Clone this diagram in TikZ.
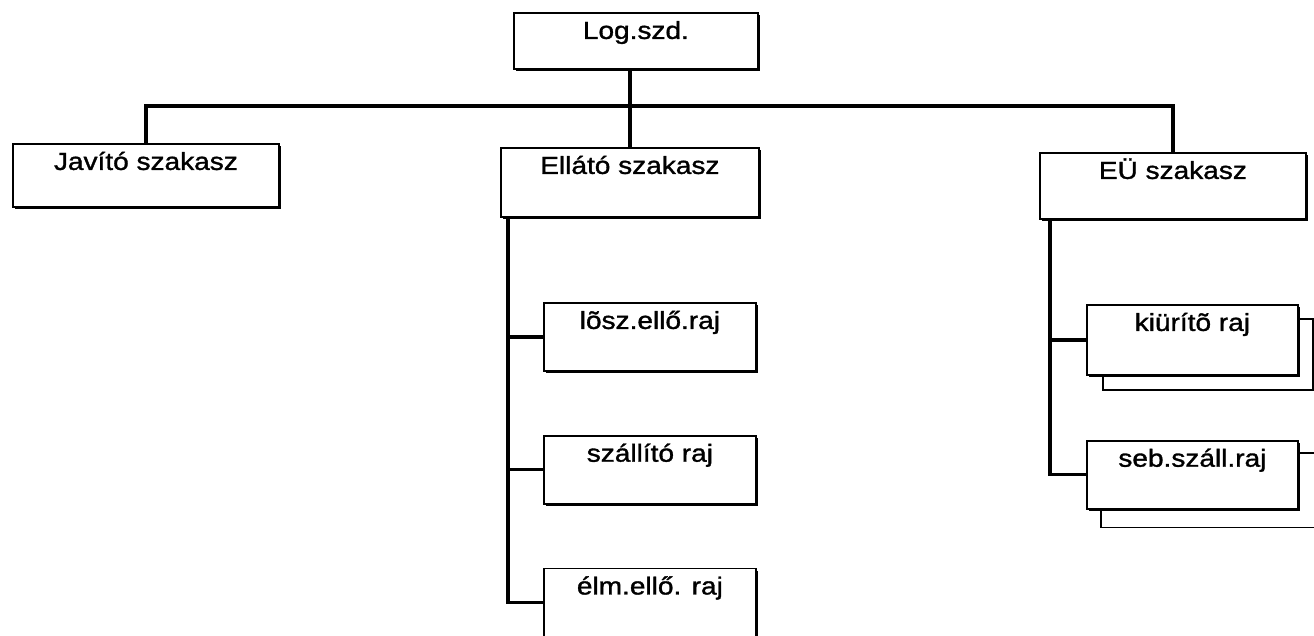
\documentclass[tikz,border=0pt]{standalone}
\usepackage{fontspec}
\setmainfont{Liberation Sans}[FakeStretch=1.14,FakeBold=1.3]
\usetikzlibrary{positioning,shadows,backgrounds}
\tikzset{box/.style={draw=black,fill=white,line width=0.9pt,inner sep=0pt,text height=13pt,
                     font=\fontsize{12.3}{15}\selectfont,
                     drop shadow={shadow xshift=1.2pt,shadow yshift=-1.2pt,fill=black,opacity=1}},
         head/.style={box,anchor=north west},
         unit/.style={box,minimum width=106pt,text depth=21pt},
         back/.style={draw=black,fill=white,line width=0.9pt},
         conn/.style={line width=1.8pt}}
\begin{document}
\begin{tikzpicture}[x=0.5pt,y=-0.5pt,node distance=31.5pt]
 \useasboundingbox (0,0) rectangle (1314,636);
 \clip (0,0) rectangle (1314,636);
 % top and section level
 \node[head,minimum width=122pt,text depth=15pt] (log) at (513,12) {Log.szd.};
 \node[head,minimum width=133pt,text depth=18.5pt] (jav) at (12,143) {Javító szakasz};
 \node[head,minimum width=129pt,text depth=21.5pt] (ell) at (500,147) {Ellátó szakasz};
 \node[head,minimum width=133pt,text depth=20pt] (eu) at (1039,152) {EÜ szakasz};
 % squads
 \node[unit,anchor=north west] (losz) at (543,302) {lõsz.ellő.raj};
 \node[unit,below=of losz] (szall) {szállító raj};
 \node[unit,below=of szall] (elm) {élm.ellő. raj};
 \node[unit,anchor=north west,minimum width=105.5pt,text depth=22pt] (kiur) at (1086,304) {kiürítõ raj};
 \node[unit,minimum width=105.5pt,below=32pt of kiur] (seb) {seb.száll.raj};
 \begin{scope}[on background layer]
  \draw[back] ([shift={(8.5pt,-7.5pt)}]kiur.north west) rectangle ([shift={(7pt,-7pt)}]kiur.south east);
  \draw[back] ([shift={(7.5pt,-6.5pt)}]seb.north west) rectangle ([shift={(16.5pt,-9pt)}]seb.south east);
 \end{scope}
 % connectors
 \draw[conn] (ell.north) -- ++(0,20.5pt) coordinate (bus) -- (bus |- log.south);
 \draw[conn] (jav.north) |- (bus) -| (eu.north);
 \coordinate (eb) at ([xshift=4pt]ell.south west);
 \draw[conn] (eb) |- (elm.west);
 \draw[conn] (losz.west) -- (losz.west -| eb);
 \draw[conn] (szall.west) -- (szall.west -| eb);
 \coordinate (ub) at ([xshift=5.5pt]eu.south west);
 \draw[conn] (ub) |- (seb.west);
 \draw[conn] (kiur.west) -- (kiur.west -| ub);
\end{tikzpicture}
\end{document}
